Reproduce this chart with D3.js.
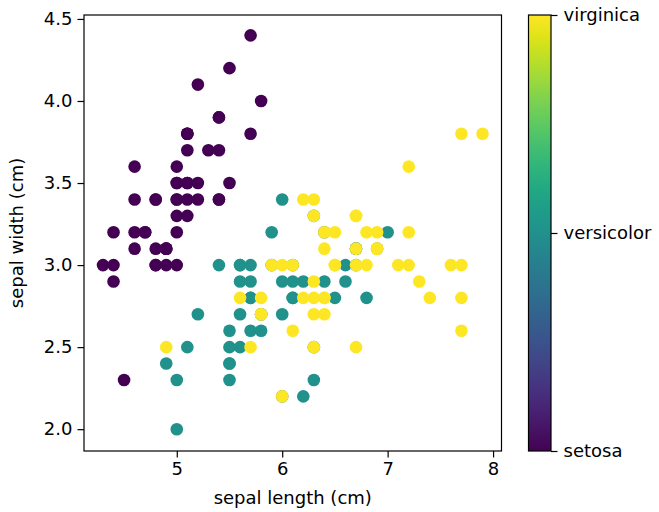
<!DOCTYPE html>
<html><head><meta charset="utf-8">
<script src="https://cdn.jsdelivr.net/npm/d3@7"></script>
<style>body{margin:0;background:#fff}svg{display:block}text{font-family:"DejaVu Sans",sans-serif;fill:#000}</style>
</head><body><svg id="c" width="659" height="512"></svg>
<script>
const classNames = ["setosa","versicolor","virginica"];
const sepalLength = [
5.1,4.9,4.7,4.6,5.0,5.4,4.6,5.0,4.4,4.9,5.4,4.8,4.8,4.3,5.8,5.7,5.4,5.1,5.7,5.1,5.4,5.1,4.6,5.1,4.8,5.0,5.0,5.2,5.2,4.7,4.8,5.4,5.2,5.5,4.9,5.0,5.5,4.9,4.4,5.1,5.0,4.5,4.4,5.0,5.1,4.8,5.1,4.6,5.3,5.0,
7.0,6.4,6.9,5.5,6.5,5.7,6.3,4.9,6.6,5.2,5.0,5.9,6.0,6.1,5.6,6.7,5.6,5.8,6.2,5.6,5.9,6.1,6.3,6.1,6.4,6.6,6.8,6.7,6.0,5.7,5.5,5.5,5.8,6.0,5.4,6.0,6.7,6.3,5.6,5.5,5.5,6.1,5.8,5.0,5.6,5.7,5.7,6.2,5.1,5.7,
6.3,5.8,7.1,6.3,6.5,7.6,4.9,7.3,6.7,7.2,6.5,6.4,6.8,5.7,5.8,6.4,6.5,7.7,7.7,6.0,6.9,5.6,7.7,6.3,6.7,7.2,6.2,6.1,6.4,7.2,7.4,7.9,6.4,6.3,6.1,7.7,6.3,6.4,6.0,6.9,6.7,6.9,5.8,6.8,6.7,6.7,6.3,6.5,6.2,5.9];
const sepalWidth = [
3.5,3.0,3.2,3.1,3.6,3.9,3.4,3.4,2.9,3.1,3.7,3.4,3.0,3.0,4.0,4.4,3.9,3.5,3.8,3.8,3.4,3.7,3.6,3.3,3.4,3.0,3.4,3.5,3.4,3.2,3.1,3.4,4.1,4.2,3.1,3.2,3.5,3.1,3.0,3.4,3.5,2.3,3.2,3.5,3.8,3.0,3.8,3.2,3.7,3.3,
3.2,3.2,3.1,2.3,2.8,2.8,3.3,2.4,2.9,2.7,2.0,3.0,2.2,2.9,2.9,3.1,3.0,2.7,2.2,2.5,3.2,2.8,2.5,2.8,2.9,3.0,2.8,3.0,2.9,2.6,2.4,2.4,2.7,2.7,3.0,3.4,3.1,2.3,3.0,2.5,2.6,3.0,2.6,2.3,2.7,3.0,2.9,2.9,2.5,2.8,
3.3,2.7,3.0,2.9,3.0,3.0,2.5,2.9,2.5,3.6,3.2,2.7,3.0,2.5,2.8,3.2,3.0,3.8,2.6,2.2,3.2,2.8,2.8,2.7,3.3,3.2,2.8,3.0,2.8,3.0,2.8,3.8,2.8,2.8,2.6,3.0,3.4,3.1,3.0,3.1,3.1,3.1,2.7,3.2,3.3,3.0,2.5,3.0,3.4,3.0];
const target = [...Array(50).fill(0),...Array(50).fill(1),...Array(50).fill(2)];
const xTicks = [5,6,7,8];
const yTicks = [2.0,2.5,3.0,3.5,4.0,4.5];
const cbTicks = [0,1,2];

const svg = d3.select("#c");
const L=84,R=501.5,T=15,B=451;
const x = d3.scaleLinear().domain([4.12,8.08]).range([L,R]);
const y = d3.scaleLinear().domain([1.867,4.524]).range([B,T]);
const col = v => d3.interpolateViridis(v/2);
const FS = 18;

const g = svg.append("g");
g.selectAll("circle").data(d3.range(sepalLength.length)).join("circle")
  .attr("cx",i=>x(sepalLength[i])).attr("cy",i=>y(sepalWidth[i]))
  .attr("r",6.3).attr("fill",i=>col(target[i]));

g.append("rect").attr("x",L).attr("y",T).attr("width",R-L).attr("height",B-T)
  .attr("fill","none").attr("stroke","#000").attr("stroke-width",1.2);

const xa = svg.append("g").attr("transform",`translate(0,${B})`)
  .call(d3.axisBottom(x).tickValues(xTicks).tickFormat(d3.format("d")).tickSize(6.5).tickPadding(5));
const ya = svg.append("g").attr("transform",`translate(${L},0)`)
  .call(d3.axisLeft(y).tickValues(yTicks).tickFormat(d3.format(".1f")).tickSize(6.5).tickPadding(5));
[xa,ya].forEach(a=>{a.select(".domain").remove();a.selectAll("text").style("font-size",FS+"px").style("font-family","DejaVu Sans");a.selectAll("line").attr("stroke","#000").attr("stroke-width",1.2);});

svg.append("text").attr("x",(L+R)/2).attr("y",504).attr("text-anchor","middle").style("font-size",FS+"px").text("sepal length (cm)");
svg.append("text").attr("transform",`translate(23,${(T+B)/2}) rotate(-90)`).attr("text-anchor","middle").style("font-size",FS+"px").text("sepal width (cm)");

// colorbar
const CL=528.5, CR=551;
const defs = svg.append("defs");
const grad = defs.append("linearGradient").attr("id","vir").attr("x1",0).attr("y1",1).attr("x2",0).attr("y2",0);
d3.range(0,1.0001,0.05).forEach(t=>grad.append("stop").attr("offset",t).attr("stop-color",d3.interpolateViridis(t)));
svg.append("rect").attr("x",CL).attr("y",T).attr("width",CR-CL).attr("height",B-T).attr("fill","url(#vir)").attr("stroke","#000").attr("stroke-width",1.2);
const cy = d3.scaleLinear().domain([0,2]).range([B,T]);
const ca = svg.append("g").attr("transform",`translate(${CR},0)`)
  .call(d3.axisRight(cy).tickValues(cbTicks).tickFormat(d=>classNames[d]).tickSize(6.5).tickPadding(6));
ca.select(".domain").remove();
ca.selectAll("text").style("font-size",FS+"px").style("font-family","DejaVu Sans");
ca.selectAll("line").attr("stroke","#000").attr("stroke-width",1.2);
</script></body></html>
